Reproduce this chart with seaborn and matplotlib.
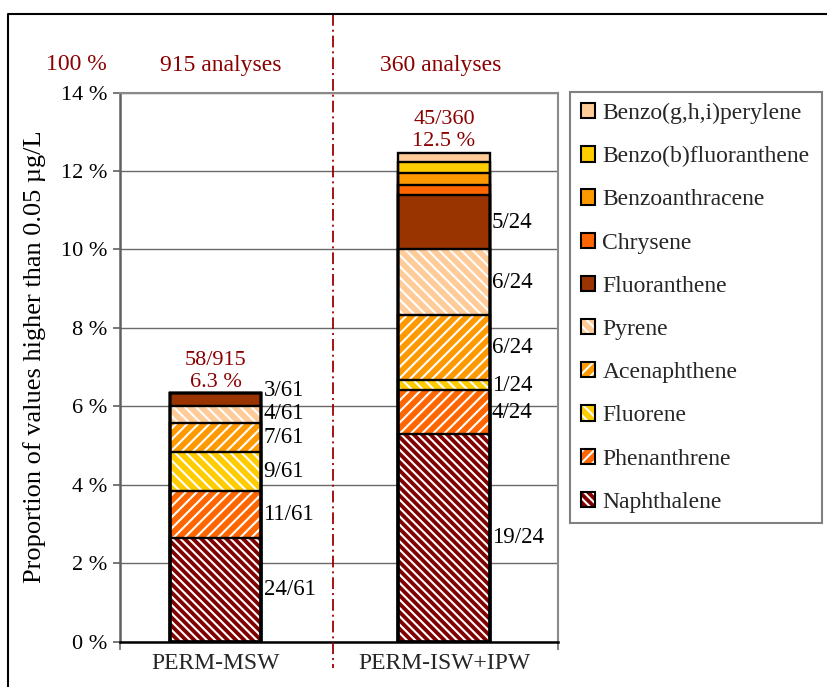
import numpy as np
import pandas as pd
import matplotlib
matplotlib.use("Agg")
import matplotlib.pyplot as plt
import seaborn as sns
from matplotlib.patches import Patch
from matplotlib.lines import Line2D

# ---------------- data ----------------
categories = ["PERM-MSW", "PERM-ISW+IPW"]
compounds = ["Naphthalene", "Phenanthrene", "Fluorene", "Acenaphthene", "Pyrene",
             "Fluoranthene", "Chrysene", "Benzoanthracene", "Benzo(b)fluoranthene",
             "Benzo(g,h,i)perylene"]
msw_values = [2.65, 1.19, 1.00, 0.73, 0.44, 0.33, 0.0, 0.0, 0.0, 0.0]
isw_values = [5.29, 1.12, 0.26, 1.66, 1.67, 1.38, 0.27, 0.31, 0.28, 0.23]
msw_labels = ["24/61", "11/61", "9/61", "7/61", "4/61", "3/61", "", "", "", ""]
isw_labels = ["19/24", "4/24", "1/24", "6/24", "6/24", "5/24", "", "", "", ""]
total_labels = ["58/915\n6.3 %", "45/360\n12.5 %"]
analyses_labels = ["915 analyses", "360 analyses"]
full_label = "100 %"
yticks = [0, 2, 4, 6, 8, 10, 12, 14]
ytick_labels = [f"{t} %" for t in yticks]
ylabel = "Proportion of values higher than 0.05 µg/L"

colors = ["#800000", "#FF6600", "#FFCC00", "#FF9900", "#FFCC99",
          "#993300", "#FF6600", "#FF9900", "#FFCC00", "#FFCC99"]
hatches = ["\\\\\\\\", "///", "\\\\\\", "///", "\\\\\\", None, None, None, None, None]
RED = "#8B0000"

# ---------------- style ----------------
sns.set_theme(style="ticks")
plt.rcParams["font.family"] = ["Liberation Serif", "DejaVu Serif"]
plt.rcParams["hatch.linewidth"] = 1.5

df = pd.DataFrame({
    "category": np.repeat(categories, len(compounds)),
    "compound": compounds * 2,
    "value": msw_values + isw_values,
    "label": msw_labels + isw_labels,
})
df["top"] = df.groupby("category", sort=False)["value"].cumsum()
df["bottom"] = df["top"] - df["value"]

W, H = 827, 687
fig = plt.figure(figsize=(W / 100, H / 100), dpi=100)
ax_l, ax_r, ax_t, ax_b = 120, 558, 92.5, 641.7
ax = fig.add_axes([ax_l / W, 1 - ax_b / H, (ax_r - ax_l) / W, (ax_b - ax_t) / H])

bar_w = 0.40
# draw cumulative bars from the top compound down so each covers the ones below
for comp, col, hat in reversed(list(zip(compounds, colors, hatches))):
    sub = df[df["compound"] == comp]
    sns.barplot(data=sub, x="category", y="top", order=categories, ax=ax,
                width=bar_w, color=col, saturation=1, errorbar=None,
                edgecolor="white", linewidth=0, hatch=hat, zorder=2)
    sns.barplot(data=sub, x="category", y="top", order=categories, ax=ax,
                width=bar_w, fill=False, color="black", saturation=1,
                errorbar=None, edgecolor="black", linewidth=1.7, zorder=3)

ax.set_xlim(-0.42, 1.5)
ax.set_ylim(0, 14)
ax.set_yticks(yticks, ytick_labels)
ax.set_xticks([0, 1], categories)
ax.set_xticks([-0.42, 1.5], minor=True)
ax.set_xlabel("")
ax.set_ylabel("")
ax.grid(axis="y", color="#6a6a6a", linewidth=1.0)
ax.set_axisbelow(True)

ax.tick_params(axis="y", length=5, width=1.2, color="#606060", pad=4,
               labelsize=16, labelcolor="black")
ax.tick_params(axis="x", which="major", length=0, pad=8, labelsize=17)
ax.tick_params(axis="x", which="minor", length=6, width=1.2, color="#707070")
for s in ["top", "right"]:
    ax.spines[s].set_color("#8a8a8a")
    ax.spines[s].set_linewidth(1.5)
ax.spines["left"].set_color("#606060")
ax.spines["left"].set_linewidth(1.8)
ax.spines["bottom"].set_color("black")
ax.spines["bottom"].set_linewidth(1.8)

# totals above bars
totals = df.groupby("category", sort=False)["value"].sum()
for i, cat in enumerate(categories):
    ax.annotate(total_labels[i], xy=(i, totals[cat]), xytext=(0, 1),
                textcoords="offset points", ha="center", va="bottom",
                color=RED, fontsize=16, linespacing=1.2)

# segment labels right of bars, at segment middles, pushed apart if crowded
min_gap = 0.6
for i, cat in enumerate(categories):
    sub = df[(df["category"] == cat) & (df["label"] != "")]
    prev = -1e9
    for _, r in sub.iterrows():
        y = r["bottom"] + r["value"] / 2
        y = max(y, prev + min_gap)
        prev = y
        ax.annotate(r["label"], xy=(i + bar_w / 2, y), xytext=(1.5, 0),
                    textcoords="offset points", ha="left", va="center",
                    fontsize=16.5, color="black")

# header texts
fig.text(107 / W, 1 - 65 / H, full_label, ha="right", va="center", color=RED, fontsize=17)
for i, t in enumerate(analyses_labels):
    xd = ax.transData.transform((i, 0))[0]
    xf = fig.transFigure.inverted().transform((xd, 0))[0]
    fig.text(xf + (5 if i == 0 else -3) / W, 1 - 65 / H, t, ha="center", va="center",
             color=RED, fontsize=17)

# y label
fig.text(35 / W, 1 - 357 / H, ylabel, rotation=90, ha="center", va="center",
         fontsize=19, color="black")

# divider line
fig.add_artist(Line2D([333 / W, 333 / W], [1 - 14 / H, 1 - 668 / H],
                      transform=fig.transFigure, color="#A00000", linewidth=1.3,
                      linestyle=(0, (6.5, 2.2, 1.1, 2.2))))
# outer frame
fig.add_artist(Line2D([8 / W, 8 / W, 1.0], [0.0, 1 - 14 / H, 1 - 14 / H],
                      transform=fig.transFigure, color="black", linewidth=1.5))

# legend
handles = []
for comp, col, hat in zip(compounds, colors, hatches):
    handles.append((Patch(facecolor=col, edgecolor="white", hatch=hat, linewidth=0),
                    Patch(facecolor="none", edgecolor="black", linewidth=1.5)))
handles = handles[::-1]
labels = compounds[::-1]
leg = fig.legend(handles, labels, loc="upper left",
                 bbox_to_anchor=(570 / W, 1 - 520 / H, 252 / W, 428 / H),
                 mode="expand", fontsize=17, frameon=True, fancybox=False,
                 edgecolor="#808080", framealpha=1, borderpad=0.45,
                 handlelength=0.62, handleheight=0.62, handletextpad=0.3,
                 labelspacing=0.94, borderaxespad=0)
leg.get_frame().set_linewidth(1.5)

fig.savefig("out.png", dpi=100)
